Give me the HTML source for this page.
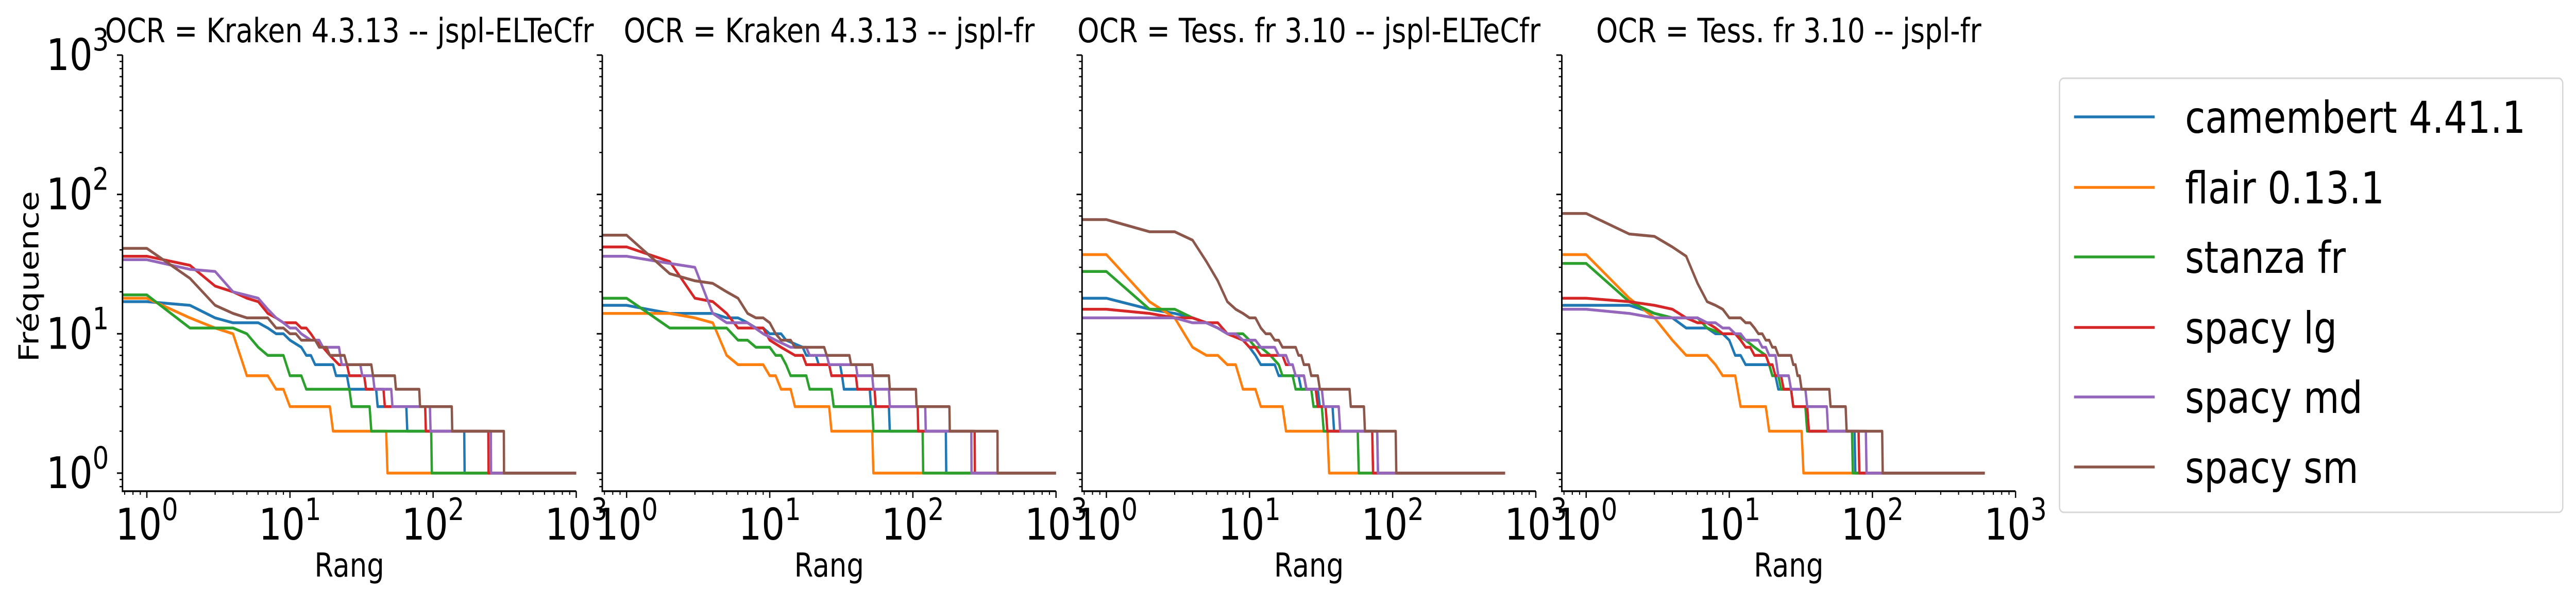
<!DOCTYPE html>
<html><head><meta charset="utf-8">
<style>
html,body{margin:0;padding:0;background:#fff;overflow:hidden;width:100%;height:100%;}
svg{display:block;width:100vw;height:100vh;font-family:"DejaVu Sans","Liberation Sans",sans-serif;}
</style></head>
<body>
<svg id="chart" viewBox="0 0 6035 1177" preserveAspectRatio="none" xmlns="http://www.w3.org/2000/svg">
<rect x="0" y="0" width="6035" height="1177" fill="#fff"/>
</svg>
<script>
const panelTitles = ["OCR = Kraken 4.3.13 -- jspl-ELTeCfr","OCR = Kraken 4.3.13 -- jspl-fr","OCR = Tess. fr 3.10 -- jspl-ELTeCfr","OCR = Tess. fr 3.10 -- jspl-fr"];
const seriesNames = ["camembert 4.41.1","flair 0.13.1","stanza fr","spacy lg","spacy md","spacy sm"];
const seriesColors = ["#1f77b4","#ff7f0e","#2ca02c","#d62728","#9467bd","#8c564b"];
const xTickExps = [0,1,2,3];
const yTickExps = [0,1,2,3];
// [rank, frequency] breakpoints, per panel, per series
const p1camembert = [[1,17],[2,16],[3,13],[4,12],[6,12],[7,11],[8,10],[9,10],[10,9],[12,8],[13,7],[14,7],[15,6],[20,6],[21,5],[25,5],[26,4],[40,4],[41,3],[65,3],[66,2],[165,2],[166,1],[1000,1]];
const p1flair = [[1,18],[2,13],[3,11],[4,10],[5,5],[7,5],[8,4],[9,4],[10,3],[19,3],[20,2],[47,2],[48,1],[1000,1]];
const p1stanza = [[1,19],[2,11],[4,11],[5,10],[6,8],[7,7],[9,7],[10,5],[12,5],[13,4],[26,4],[27,3],[36,3],[37,2],[97,2],[98,1],[1000,1]];
const p1lg = [[1,36],[2,31],[3,22],[4,20],[5,18],[6,17],[7,14],[8,13],[9,12],[11,12],[12,11],[13,11],[14,10],[15,9],[17,8],[19,7],[22,6],[25,6],[26,5],[33,5],[34,4],[45,4],[46,3],[88,3],[89,2],[243,2],[244,1],[1000,1]];
const p1md = [[1,34],[2,29],[3,28],[4,20],[6,18],[7,15],[8,13],[9,12],[10,11],[11,11],[12,10],[14,9],[16,9],[17,8],[22,8],[23,6],[31,6],[32,5],[38,5],[39,4],[51,4],[52,3],[95,3],[96,2],[253,2],[254,1],[1000,1]];
const p1sm = [[1,41],[2,25],[3,16],[4,14],[5,13],[7,13],[8,11],[9,11],[10,10],[11,10],[12,9],[15,9],[16,8],[18,8],[19,7],[24,7],[25,6],[37,6],[38,5],[54,5],[55,4],[80,4],[81,3],[135,3],[136,2],[312,2],[313,1],[1000,1]];
const p2camembert = [[1,16],[2,14],[4,14],[5,13],[6,13],[7,12],[8,11],[9,11],[10,10],[12,10],[13,9],[17,8],[18,7],[21,7],[22,6],[31,6],[32,5],[33,4],[50,4],[51,3],[68,3],[69,2],[170,2],[171,1],[1000,1]];
const p2flair = [[1,14],[2,14],[3,13],[4,12],[5,7],[6,6],[9,6],[10,5],[11,5],[12,4],[14,4],[15,3],[26,3],[27,2],[52,2],[53,1],[1000,1]];
const p2stanza = [[1,18],[2,11],[5,11],[6,9],[7,9],[8,8],[10,8],[11,7],[12,7],[13,6],[14,5],[18,5],[19,4],[27,4],[28,3],[52,3],[53,2],[117,2],[118,1],[1000,1]];
const p2lg = [[1,42],[2,33],[3,18],[4,17],[5,14],[6,11],[9,11],[10,9],[12,8],[15,7],[17,7],[18,6],[26,6],[27,5],[40,5],[41,4],[54,4],[55,3],[108,3],[109,2],[270,2],[271,1],[1000,1]];
const p2md = [[1,36],[2,32],[3,30],[4,14],[5,12],[7,12],[9,10],[11,9],[14,8],[18,8],[19,7],[25,7],[26,6],[40,6],[41,5],[52,5],[53,4],[68,4],[69,3],[122,3],[123,2],[256,2],[257,1],[1000,1]];
const p2sm = [[1,51],[2,27],[3,24],[4,23],[5,20],[6,18],[7,14],[8,13],[9,13],[10,12],[11,10],[12,9],[14,9],[15,8],[24,8],[25,7],[36,7],[37,6],[52,6],[53,5],[68,5],[69,4],[105,4],[106,3],[180,3],[181,2],[390,2],[391,1],[1000,1]];
const p3camembert = [[1,18],[2,15],[3,14],[4,13],[5,12],[6,11],[7,10],[8,10],[9,9],[10,8],[11,7],[12,6],[15,6],[16,5],[22,5],[23,4],[30,4],[31,3],[38,3],[39,2],[78,2],[79,1],[610,1]];
const p3flair = [[1,37],[2,17],[3,13],[4,8],[5,7],[6,7],[7,6],[8,6],[9,4],[11,4],[12,3],[17,3],[18,2],[35,2],[36,1],[610,1]];
const p3stanza = [[1,28],[2,15],[3,15],[4,13],[5,12],[6,11],[7,10],[9,10],[10,9],[11,8],[12,8],[14,7],[16,6],[17,5],[20,5],[21,4],[27,4],[28,3],[32,3],[33,2],[57,2],[58,1],[610,1]];
const p3lg = [[1,15],[2,14],[3,13],[4,13],[5,12],[6,12],[7,10],[9,9],[10,8],[11,8],[12,7],[17,7],[18,6],[20,6],[21,5],[24,5],[25,4],[29,4],[30,3],[34,3],[35,2],[72,2],[73,1],[610,1]];
const p3md = [[1,13],[3,13],[4,12],[5,12],[6,11],[7,10],[8,10],[9,9],[11,9],[12,8],[15,8],[16,7],[18,7],[19,6],[20,6],[21,5],[24,5],[25,4],[32,4],[33,3],[42,3],[43,2],[78,2],[79,1],[610,1]];
const p3sm = [[1,66],[2,54],[3,54],[4,47],[5,33],[6,24],[7,17],[8,15],[9,14],[10,13],[11,13],[12,11],[13,10],[14,10],[15,9],[16,9],[17,8],[21,8],[22,7],[23,7],[24,6],[26,6],[27,5],[30,5],[31,4],[50,4],[51,3],[63,3],[64,2],[105,2],[106,1],[610,1]];
const p4camembert = [[1,16],[2,16],[3,14],[4,13],[5,11],[7,11],[8,10],[9,10],[10,9],[11,7],[12,7],[13,6],[19,6],[20,5],[21,5],[22,4],[27,4],[28,3],[35,3],[36,2],[75,2],[76,1],[610,1]];
const p4flair = [[1,37],[2,18],[3,13],[4,9],[5,7],[7,7],[8,6],[9,5],[11,5],[12,3],[18,3],[19,2],[32,2],[33,1],[610,1]];
const p4stanza = [[1,32],[2,17],[3,14],[4,13],[6,13],[7,11],[9,10],[11,10],[13,9],[15,8],[18,7],[19,6],[20,5],[22,5],[23,4],[27,4],[28,3],[34,3],[35,2],[72,2],[73,1],[610,1]];
const p4lg = [[1,18],[2,17],[3,16],[4,15],[5,13],[6,12],[7,12],[8,11],[9,10],[11,10],[12,9],[13,8],[14,8],[15,7],[18,7],[19,6],[20,6],[21,5],[23,5],[24,4],[27,4],[28,3],[35,3],[36,2],[80,2],[81,1],[610,1]];
const p4md = [[1,15],[2,14],[3,13],[6,13],[7,12],[8,12],[9,11],[10,11],[11,10],[12,10],[13,9],[16,9],[17,8],[18,8],[19,7],[21,7],[22,5],[26,5],[27,4],[34,4],[35,3],[48,3],[49,2],[90,2],[91,1],[610,1]];
const p4sm = [[1,73],[2,52],[3,50],[4,42],[5,36],[6,23],[7,17],[8,16],[9,15],[10,13],[12,13],[13,12],[14,12],[15,11],[16,10],[17,10],[18,9],[19,9],[20,8],[21,8],[22,7],[27,7],[28,6],[29,6],[30,5],[31,5],[32,4],[50,4],[51,3],[65,3],[66,2],[117,2],[118,1],[610,1]];
const panelsData = [
  [p1camembert,p1flair,p1stanza,p1lg,p1md,p1sm],
  [p2camembert,p2flair,p2stanza,p2lg,p2md,p2sm],
  [p3camembert,p3flair,p3stanza,p3lg,p3md,p3sm],
  [p4camembert,p4flair,p4stanza,p4lg,p4md,p4sm]
];

const NS = "http://www.w3.org/2000/svg";
const svg = document.getElementById('chart');
const panelLefts = [287,1411,2535,3659];
const PW = 1063, TOP = 107, BOT = 954;
const xMin = 0.676, xMax = 1000, yMin = 0.742, yMax = 1000;
function mk(tag, attrs, parent){const e=document.createElementNS(NS,tag);for(const k in attrs)e.setAttribute(k,attrs[k]);(parent||svg).appendChild(e);return e;}
function xScale(left,v){return left + (Math.log10(Math.max(v,xMin))-Math.log10(xMin))/(Math.log10(xMax)-Math.log10(xMin))*PW;}
function yScale(v){return BOT - (Math.log10(v)-Math.log10(yMin))/(Math.log10(yMax)-Math.log10(yMin))*(BOT-TOP);}

panelsData.forEach((series,pi)=>{
  const L = panelLefts[pi];
  const g = mk('g',{});
  
  
  const cp = mk('clipPath',{id:'clip'+pi},g);
  mk('rect',{x:L,y:yScale(yMax),width:PW,height:BOT-yScale(yMax)},cp);
  series.forEach((pts,si)=>{
    const first = pts[0];
    const path = 'M'+xScale(L,xMin).toFixed(1)+' '+yScale(first[1]).toFixed(1)+' '+pts.map(p=>'L'+xScale(L,p[0]).toFixed(1)+' '+yScale(p[1]).toFixed(1)).join(' ');
    const ln = mk('path',{d:path,fill:'none',stroke:seriesColors[si],'stroke-width':5.5,'stroke-linejoin':'round','clip-path':'url(#clip'+pi+')'},g);
    
    
  });
  const sp = mk('path',{d:`M${L} ${yScale(yMax)} L${L} ${BOT} L${L+PW} ${BOT}`,fill:'none',stroke:'#000','stroke-width':3.5},g);
  
  
  for(let e=-1;e<=2;e++){
    for(let m=1;m<=9;m++){
      const v=m*Math.pow(10,e);
      if(v<xMin-1e-9||v>xMax+1e-9)continue;
      const x=xScale(L,v); const len = m===1?13:7;
      mk('line',{x1:x,y1:BOT,x2:x,y2:BOT+len,stroke:'#000','stroke-width':m===1?3:2.5},g);
    }
  }
  mk('line',{x1:xScale(L,1000),y1:BOT,x2:xScale(L,1000),y2:BOT+13,stroke:'#000','stroke-width':3},g);
  xTickExps.forEach(ex=>{
    const x=xScale(L,Math.pow(10,ex));
    const t=mk('text',{x:x,y:1048,'font-size':85,'text-anchor':'middle'},g);
    
    
    t.appendChild(document.createTextNode('10'));
    const s=mk('tspan',{dy:-38,'font-size':60},t); s.textContent=String(ex);
  });
  for(let e=-1;e<=2;e++){
    for(let m=1;m<=9;m++){
      const v=m*Math.pow(10,e);
      if(v<yMin-1e-9||v>yMax+1e-9)continue;
      const y=yScale(v); const len=m===1?13:7;
      mk('line',{x1:L,y1:y,x2:L-len,y2:y,stroke:'#000','stroke-width':m===1?3:2.5},g);
    }
  }
  mk('line',{x1:L,y1:yScale(1000),x2:L-13,y2:yScale(1000),stroke:'#000','stroke-width':3},g);
  if(pi===0){
    yTickExps.forEach(ex=>{
      const y=yScale(Math.pow(10,ex));
      const t=mk('text',{x:L-32,y:y+29,'font-size':85,'text-anchor':'end'},g);
      
      
      t.appendChild(document.createTextNode('10'));
      const s=mk('tspan',{dy:-38,'font-size':60},t);
      s.textContent=String(ex);
    });
  }
  const tt=mk('text',{x:L+PW/2,y:82,'font-size':65,'text-anchor':'middle'},g);
  
  
  tt.textContent=panelTitles[pi];
  const xl=mk('text',{x:L+PW/2,y:1120,'font-size':64,'text-anchor':'middle'},g);
  
  
  xl.textContent='Rang';
});
const yl=mk('text',{x:0,y:0,'font-size':64,'text-anchor':'middle',transform:'translate(90 537) rotate(-90)'});


yl.textContent='Fréquence';
const lg=mk('g',{});


mk('rect',{x:4825,y:152,width:1179,height:843,rx:10,ry:10,fill:'#fff',stroke:'#d6d6d6','stroke-width':3},lg);
const legendY=[227,364,499,636,771,907];
seriesNames.forEach((n,i)=>{
  const e=mk('g',{},lg);
  
  
  mk('line',{x1:4859,y1:legendY[i],x2:5048,y2:legendY[i],stroke:seriesColors[i],'stroke-width':5.5},e);
  const t=mk('text',{x:5119,y:legendY[i]+31,'font-size':86},e);
  t.textContent=n;
});
</script>
</body></html>
